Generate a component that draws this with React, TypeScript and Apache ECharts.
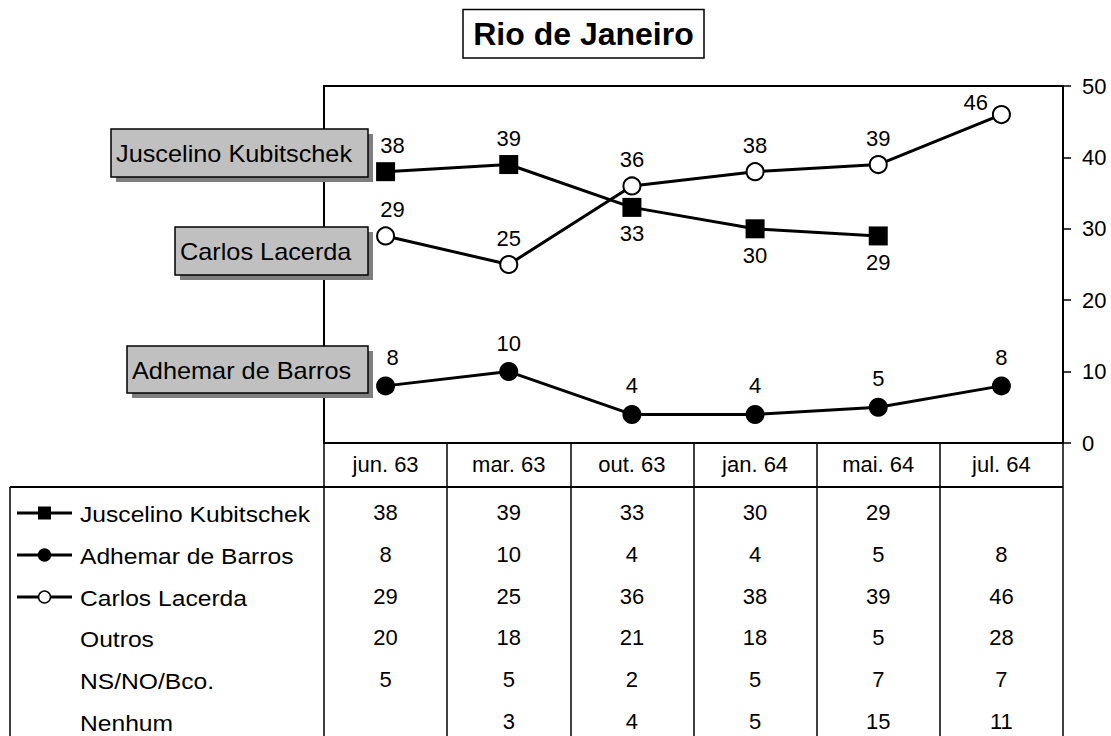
import React, { useEffect, useRef } from "react";
import * as echarts from "echarts";

// ---------- data ----------
const categories = ["jun. 63", "mar. 63", "out. 63", "jan. 64", "mai. 64", "jul. 64"];
const kubitschek: (number | null)[] = [38, 39, 33, 30, 29, null];
const adhemar: (number | null)[] = [8, 10, 4, 4, 5, 8];
const lacerda: (number | null)[] = [29, 25, 36, 38, 39, 46];
const outros: (number | null)[] = [20, 18, 21, 18, 5, 28];
const nsNoBco: (number | null)[] = [5, 5, 2, 5, 7, 7];
const nenhum: (number | null)[] = [null, 3, 4, 5, 15, 11];
const yMin = 0;
const yMax = 50;
const yStep = 10;

const seriesNames = ["Juscelino Kubitschek", "Adhemar de Barros", "Carlos Lacerda"];
const rowNames = ["Juscelino Kubitschek", "Adhemar de Barros", "Carlos Lacerda", "Outros", "NS/NO/Bco.", "Nenhum"];
const rowValues = [kubitschek, adhemar, lacerda, outros, nsNoBco, nenhum];
const title = "Rio de Janeiro";

// ---------- layout / style ----------
const W = 1111;
const H = 736;
const FONT = "Liberation Sans";
const gridLeft = 324;
const gridRight = 1063;
const gridTop = 86;
const gridBottom = 443;
const rowCenters = [513, 555, 597, 638, 680, 722];
const fs = 22;
const labelMargin = 10;

const jkLabelPos = ["top", "top", "bottom", "bottom", "bottom", "top"];
const clLabelPos = ["top", "top", "top", "top", "top", "left"];

function items(vals: (number | null)[], pos: string[] | null) {
  return vals.map((v, i) => {
    const label: any = { position: pos ? pos[i] : "top" };
    if (i === 0) label.offset = [7, 0];
    if (pos && pos[i] === "left") label.offset = [2, -12];
    return { value: v == null ? "-" : v, label };
  });
}

function buildOption() {
  const extraAxes = rowValues.map((vals, r) => ({
    type: "category",
    gridIndex: 0,
    data: categories,
    position: "bottom",
    offset: rowCenters[r] - gridBottom - labelMargin - fs / 2 - 1,
    boundaryGap: true,
    axisLine: { show: false, onZero: false },
    axisTick: { show: false },
    splitLine: { show: false },
    axisLabel: {
      show: true,
      interval: 0,
      margin: labelMargin,
      fontSize: fs,
      color: "#000",
      fontFamily: FONT,
      formatter: (_v: string, idx: number) => (vals[idx] == null ? "" : String(vals[idx])),
    },
  }));

  const boxes = [
    { text: seriesNames[0], x: 111, y: 129, w: 257, h: 48 },
    { text: seriesNames[2], x: 175, y: 227, w: 193, h: 48 },
    { text: seriesNames[1], x: 127, y: 346, w: 241, h: 47 },
  ];

  const graphic: any[] = [];
  // title box
  graphic.push({
    type: "rect",
    z: 100,
    shape: { x: 463, y: 9.5, width: 241, height: 48.5 },
    style: { fill: "#fff", stroke: "#000", lineWidth: 1.5 },
  });
  graphic.push({
    type: "text",
    z: 101,
    x: 583.5,
    y: 34,
    style: {
      text: title,
      font: `bold 32px "${FONT}"`,
      fill: "#000",
      textAlign: "center",
      textVerticalAlign: "middle",
    },
  });
  // series name boxes
  boxes.forEach((b) => {
    graphic.push({
      type: "rect",
      z: 100,
      shape: { x: b.x + 5, y: b.y + 5, width: b.w, height: b.h },
      style: { fill: "#7f7f7f" },
    });
    graphic.push({
      type: "rect",
      z: 101,
      shape: { x: b.x, y: b.y, width: b.w, height: b.h },
      style: { fill: "#c0c0c0", stroke: "#000", lineWidth: 1.5 },
    });
    graphic.push({
      type: "text",
      z: 102,
      x: b.x + 5,
      y: b.y + b.h / 2 + 1,
      scaleX: 1.1,
      style: {
        text: b.text,
        font: `23px "${FONT}"`,
        fill: "#000",
        textAlign: "left",
        textVerticalAlign: "middle",
      },
    });
  });
  // table frame
  graphic.push({
    type: "line",
    z: 50,
    shape: { x1: 10, y1: 487, x2: gridRight, y2: 487 },
    style: { stroke: "#000", lineWidth: 2 },
  });
  graphic.push({
    type: "line",
    z: 50,
    shape: { x1: 10, y1: 487, x2: 10, y2: H },
    style: { stroke: "#000", lineWidth: 1.5 },
  });
  // row labels with legend icons
  rowNames.forEach((name, r) => {
    const cy = rowCenters[r];
    graphic.push({
      type: "text",
      z: 50,
      x: 80,
      y: cy + 1,
      scaleX: 1.12,
      style: {
        text: name,
        font: `${fs}px "${FONT}"`,
        fill: "#000",
        textAlign: "left",
        textVerticalAlign: "middle",
      },
    });
    if (r < 3) {
      graphic.push({
        type: "line",
        z: 50,
        shape: { x1: 17, y1: cy, x2: 72, y2: cy },
        style: { stroke: "#000", lineWidth: 3 },
      });
      if (r === 0) {
        graphic.push({
          type: "rect",
          z: 51,
          shape: { x: 38, y: cy - 6.5, width: 13, height: 13 },
          style: { fill: "#000" },
        });
      } else {
        graphic.push({
          type: "circle",
          z: 51,
          shape: { cx: 44.5, cy, r: 6 },
          style: { fill: r === 1 ? "#000" : "#fff", stroke: "#000", lineWidth: 1.5 },
        });
      }
    }
  });

  const labelBase = { show: true, fontSize: fs, color: "#000", fontFamily: FONT, distance: 6 };

  return {
    animation: false,
    backgroundColor: "#fff",
    textStyle: { fontFamily: FONT },
    grid: {
      left: gridLeft,
      right: W - gridRight,
      top: gridTop,
      bottom: H - gridBottom,
      containLabel: false,
      outerBoundsMode: "none",
      show: true,
      borderColor: "#000",
      borderWidth: 2,
      backgroundColor: "transparent",
    },
    xAxis: [
      {
        type: "category",
        data: categories,
        boundaryGap: true,
        axisLine: { show: true, lineStyle: { color: "#000", width: 2 } },
        axisTick: {
          show: true,
          inside: false,
          length: H - gridBottom,
          interval: 0,
          lineStyle: { color: "#000", width: 1.5 },
        },
        axisLabel: {
          show: true,
          interval: 0,
          margin: labelMargin,
          fontSize: fs,
          color: "#000",
          fontFamily: FONT,
        },
        splitLine: { show: false },
      },
      ...extraAxes,
    ],
    yAxis: {
      type: "value",
      position: "right",
      min: yMin,
      max: yMax,
      interval: yStep,
      axisLine: { show: true, lineStyle: { color: "#000", width: 2 } },
      axisTick: { show: true, inside: false, length: 8, lineStyle: { color: "#000", width: 1.5 } },
      axisLabel: { show: true, margin: 19, fontSize: fs, color: "#000", fontFamily: FONT },
      splitLine: { show: false },
    },
    series: [
      {
        name: seriesNames[0],
        type: "line",
        data: items(kubitschek, jkLabelPos),
        symbol: "rect",
        symbolSize: 19,
        itemStyle: { color: "#000" },
        lineStyle: { color: "#000", width: 3 },
        label: labelBase,
        z: 3,
      },
      {
        name: seriesNames[1],
        type: "line",
        data: items(adhemar, null),
        symbol: "circle",
        symbolSize: 19,
        itemStyle: { color: "#000" },
        lineStyle: { color: "#000", width: 3 },
        label: { ...labelBase, distance: 8 },
        z: 3,
      },
      {
        name: seriesNames[2],
        type: "line",
        data: items(lacerda, clLabelPos),
        symbol: "circle",
        symbolSize: 17,
        showSymbol: true,
        itemStyle: { color: "#fff", borderColor: "#000", borderWidth: 2 },
        lineStyle: { color: "#000", width: 3 },
        label: labelBase,
        z: 4,
      },
    ],
    graphic,
  };
}

export default function App() {
  const ref = useRef<HTMLDivElement>(null);
  useEffect(() => {
    if (!ref.current) return;
    const chart = echarts.init(ref.current, null, { renderer: "svg" });
    chart.setOption(buildOption() as any);
    return () => chart.dispose();
  }, []);
  return (
    <div
      ref={ref}
      style={{ position: "fixed", left: 0, top: 0, width: W, height: H, background: "#fff" }}
    />
  );
}
